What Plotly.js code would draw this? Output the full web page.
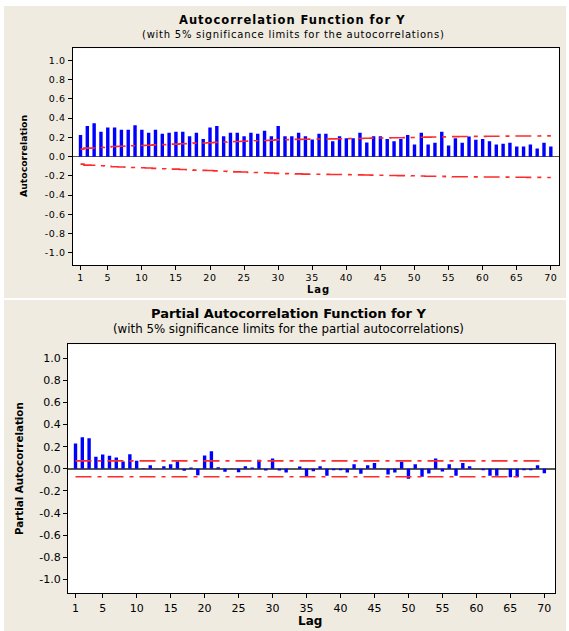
<!DOCTYPE html>
<html><head><meta charset="utf-8">
<script src="https://cdn.plot.ly/plotly-3.0.1.min.js"></script>
<style>
html,body{margin:0;padding:0;background:#fff;} #chart{width:569px;height:631px;}
g.annotation[data-index="0"] text{letter-spacing:1px;}
g.annotation[data-index="1"] text{letter-spacing:0.75px;}
g.annotation[data-index="2"] text{letter-spacing:1px;}
.subplot.xy .xtick text, .subplot.xy .ytick text{letter-spacing:0.6px;}
</style>
</head><body><div id="chart"></div>
<script>
// ---- data ----
const lags = [1,2,3,4,5,6,7,8,9,10,11,12,13,14,15,16,17,18,19,20,21,22,23,24,25,26,27,28,29,30,31,32,33,34,35,36,37,38,39,40,41,42,43,44,45,46,47,48,49,50,51,52,53,54,55,56,57,58,59,60,61,62,63,64,65,66,67,68,69,70];
const acf = [0.225,0.318,0.348,0.258,0.303,0.303,0.28,0.28,0.325,0.28,0.248,0.28,0.238,0.248,0.258,0.258,0.213,0.248,0.183,0.303,0.318,0.213,0.248,0.248,0.213,0.248,0.238,0.27,0.213,0.318,0.213,0.213,0.248,0.213,0.178,0.238,0.238,0.16,0.213,0.19,0.19,0.248,0.148,0.213,0.213,0.183,0.16,0.183,0.225,0.125,0.248,0.125,0.145,0.258,0.115,0.19,0.145,0.208,0.175,0.183,0.16,0.125,0.135,0.145,0.105,0.105,0.125,0.085,0.145,0.105];
const acfLimit = [0.078,0.088,0.09,0.095,0.1,0.105,0.108,0.11,0.113,0.115,0.118,0.122,0.125,0.128,0.13,0.134,0.136,0.14,0.142,0.144,0.148,0.152,0.155,0.158,0.16,0.163,0.165,0.167,0.17,0.174,0.176,0.178,0.179,0.181,0.182,0.183,0.184,0.185,0.186,0.187,0.188,0.189,0.191,0.192,0.193,0.195,0.196,0.197,0.198,0.199,0.201,0.203,0.204,0.205,0.207,0.208,0.209,0.209,0.21,0.211,0.212,0.212,0.213,0.213,0.214,0.214,0.215,0.215,0.216,0.216];
const pacf = [0.228,0.285,0.275,0.11,0.13,0.118,0.102,0.065,0.132,0.072,0.005,0.032,0.002,0.022,0.042,0.068,-0.018,0.012,-0.058,0.12,0.158,0.014,-0.026,0.003,-0.032,0.022,0.012,0.082,-0.015,0.092,-0.015,-0.033,0.0,0.021,-0.075,-0.022,0.022,-0.062,-0.014,-0.014,-0.033,0.042,-0.044,0.033,0.053,0.002,-0.052,-0.033,0.064,-0.09,0.042,-0.071,-0.042,0.092,-0.024,0.042,-0.062,0.053,0.022,0.001,-0.014,-0.062,-0.062,0.0,-0.076,-0.076,-0.014,-0.014,0.033,-0.041];
const pacfLimit = 0.072;
const xTickVals = [1,5,10,15,20,25,30,35,40,45,50,55,60,65,70];
const yTickVals = [-1.0,-0.8,-0.6,-0.4,-0.2,0.0,0.2,0.4,0.6,0.8,1.0];
const yTickText = ["-1.0","-0.8","-0.6","-0.4","-0.2","0.0","0.2","0.4","0.6","0.8","1.0"];

// ---- drawing ----
const W = 569, H = 631;
const px = x => x / W, py = y => 1 - y / H;
const topFont = 'DejaVu Sans, Verdana, sans-serif';
const botFont = 'DejaVu Sans, Tahoma, sans-serif';
const RED = '#ff2a2a', BLUE = '#0000ff';
const dashPat = '16px,6px,4px,6px';

const traces = [
  {type:'bar', x:lags, y:acf, xaxis:'x', yaxis:'y', marker:{color:BLUE, line:{width:0}}, width:0.5, hoverinfo:'x+y'},
  {type:'scatter', mode:'lines', x:lags, y:acfLimit, xaxis:'x', yaxis:'y', line:{color:RED, width:1.6, dash:dashPat, shape:'hvh'}},
  {type:'scatter', mode:'lines', x:lags, y:acfLimit.map(v => -v), xaxis:'x', yaxis:'y', line:{color:RED, width:1.6, dash:dashPat, shape:'hvh'}},
  {type:'bar', x:lags, y:pacf, xaxis:'x2', yaxis:'y2', marker:{color:BLUE, line:{width:0}}, width:0.5, hoverinfo:'x+y'},
  {type:'scatter', mode:'lines', x:[lags[0], lags[lags.length-1]], y:[pacfLimit, pacfLimit], xaxis:'x2', yaxis:'y2', line:{color:RED, width:1.6, dash:dashPat}},
  {type:'scatter', mode:'lines', x:[lags[0], lags[lags.length-1]], y:[-pacfLimit, -pacfLimit], xaxis:'x2', yaxis:'y2', line:{color:RED, width:1.6, dash:dashPat}}
];

function xAx(domain, range, anchor, font, size){
  return {domain:domain, range:range, anchor:anchor, tickmode:'array', tickvals:xTickVals,
    ticks:'outside', ticklen:4, tickwidth:1, tickcolor:'#000', showline:true, mirror:true,
    linecolor:'#000', linewidth:1, showgrid:false, zeroline:false,
    tickfont:{family:font, size:size, color:'#000'}, fixedrange:true};
}
function yAx(domain, anchor, font, size){
  return {domain:domain, range:[-1.125,1.125], anchor:anchor, tickmode:'array', tickvals:yTickVals, ticktext:yTickText,
    ticks:'outside', ticklen:4, tickwidth:1, tickcolor:'#000', showline:true, mirror:true,
    linecolor:'#000', linewidth:1, showgrid:false, zeroline:true, zerolinecolor:'#555', zerolinewidth:1.5,
    tickfont:{family:font, size:size, color:'#000'}, fixedrange:true};
}

const ann = (x, y, text, font, size, angle, anchor) => ({xref:'paper', yref:'paper', x:px(x), y:py(y), text:text,
  showarrow:false, xanchor:anchor||'center', align:anchor||'center', yanchor:'middle', textangle:angle||0,
  font:{family:font, size:size, color:'#000'}});

const BEIGE = '#efebe1';
const layout = {
  width:W, height:H, margin:{l:0, r:0, t:0, b:0}, paper_bgcolor:'#ffffff', plot_bgcolor:'rgba(0,0,0,0)',
  showlegend:false,
  xaxis: xAx([px(72.6), px(558.8)], [-0.16, 71.17], 'y', topFont, 9.5),
  yaxis: yAx([py(265), py(48.3)], 'x', topFont, 9.5),
  xaxis2: xAx([px(67.9), px(555)], [-0.12, 71.57], 'y2', botFont, 11),
  yaxis2: yAx([py(593.3), py(344.3)], 'x2', botFont, 11),
  shapes: [
    {type:'rect', xref:'paper', yref:'paper', x0:px(4), x1:px(566), y0:py(298), y1:py(6), fillcolor:BEIGE, line:{width:0}, layer:'below'},
    {type:'rect', xref:'paper', yref:'paper', x0:px(4), x1:px(566), y0:py(631), y1:py(300), fillcolor:BEIGE, line:{width:0}, layer:'below'},
    {type:'rect', xref:'paper', yref:'paper', x0:px(72.6), x1:px(558.8), y0:py(265), y1:py(48.3), fillcolor:'#ffffff', line:{width:0}, layer:'below'},
    {type:'rect', xref:'paper', yref:'paper', x0:px(67.9), x1:px(555), y0:py(593.3), y1:py(344.3), fillcolor:'#ffffff', line:{width:0}, layer:'below'}
  ],
  annotations: [
    ann(177, 20, '<b>Autocorrelation Function for Y</b>', topFont, 11.5, 0, 'left'),
    ann(140, 34, '(with 5% significance limits for the autocorrelations)', topFont, 10, 0, 'left'),
    ann(305, 289, '<b>Lag</b>', topFont, 10, 0, 'left'),
    ann(24, 156, '<b>Autocorrelation</b>', topFont, 9.3, -90),
    ann(288, 313, '<b>Partial Autocorrelation Function for Y</b>', botFont, 13),
    ann(288, 329, '(with 5% significance limits for the partial autocorrelations)', botFont, 11.8),
    ann(310, 621, '<b>Lag</b>', botFont, 12),
    ann(19, 469, '<b>Partial Autocorrelation</b>', botFont, 10.3, -90)
  ]
};

Plotly.newPlot('chart', traces, layout, {displayModeBar:false, staticPlot:true});
</script>
</body></html>
